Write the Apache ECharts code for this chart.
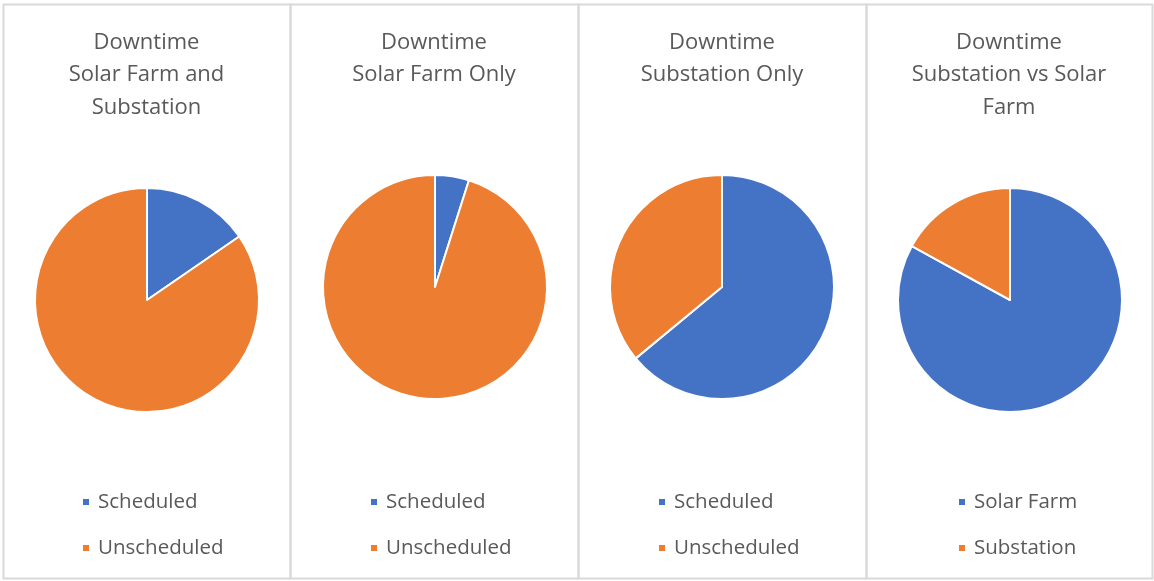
<!DOCTYPE html>
<html>
<head>
<meta charset="utf-8">
<script src="https://cdn.jsdelivr.net/npm/echarts@6/dist/echarts.min.js"></script>
<style>
  html, body { margin: 0; padding: 0; background: #fff; }
  #main { width: 1154px; height: 581px; }
</style>
</head>
<body>
<div id="main"></div>
<script>
// chart data
const titles = [
  'Downtime\nSolar Farm and\nSubstation',
  'Downtime\nSolar Farm Only',
  'Downtime\nSubstation Only',
  'Downtime\nSubstation vs Solar\nFarm'
]
const labelsA = ['Scheduled', 'Unscheduled']
const labelsB = ['Solar Farm', 'Substation']
const valuesFarmAndSub = [15.4, 84.6]
const valuesFarmOnly = [4.9, 95.1]
const valuesSubOnly = [64, 36]
const valuesSubVsFarm = [83, 17]

const panels = [
  { labels: labelsA, values: valuesFarmAndSub, left: 3, cx: 147, cy: 300, legendX: 81 },
  { labels: labelsA, values: valuesFarmOnly, left: 290, cx: 435, cy: 287, legendX: 369 },
  { labels: labelsA, values: valuesSubOnly, left: 578, cx: 722, cy: 287, legendX: 657 },
  { labels: labelsB, values: valuesSubVsFarm, left: 866, cx: 1010, cy: 300, legendX: 957 }
]
const panelW = [287, 288, 288, 286]
const colors = ['#4472C4', '#ED7D31']
const font = '"Open Sans", "Noto Sans", sans-serif'

const myChart = echarts.init(document.getElementById('main'))

const option = {
  backgroundColor: '#fff',
  animation: false,
  color: colors,
  title: panels.map((p, i) => ({
    text: titles[i],
    left: p.left + panelW[i] / 2,
    top: 26,
    padding: 0,
    textAlign: 'center',
    textStyle: { fontFamily: font, fontSize: 22, fontWeight: 'normal', color: '#595959', lineHeight: 32.5 }
  })),
  legend: panels.map((p, i) => ({
    orient: 'vertical',
    left: p.legendX,
    top: 491.5,
    padding: 0,
    icon: 'rect',
    itemWidth: 8,
    itemHeight: 8,
    itemGap: 25,
    data: p.labels,
    selectedMode: false,
    textStyle: { fontFamily: font, fontSize: 20.5, color: '#595959', lineHeight: 20, padding: [0, 0, 0, 3] }
  })),
  graphic: panels.map((p, i) => ({
    type: 'rect',
    shape: { x: p.left + 0.5, y: 4.5, width: panelW[i], height: 574 },
    style: { fill: 'none', stroke: '#d9d9d9', lineWidth: 2 },
    silent: true
  })),
  series: panels.map((p) => ({
    type: 'pie',
    center: [p.cx, p.cy],
    radius: 112,
    startAngle: 90,
    clockwise: true,
    label: { show: false },
    labelLine: { show: false },
    emphasis: { disabled: true },
    itemStyle: { borderColor: '#fff', borderWidth: 2 },
    data: p.labels.map((name, k) => ({ name: name, value: p.values[k] }))
  }))
}
myChart.setOption(option)
</script>
</body>
</html>
